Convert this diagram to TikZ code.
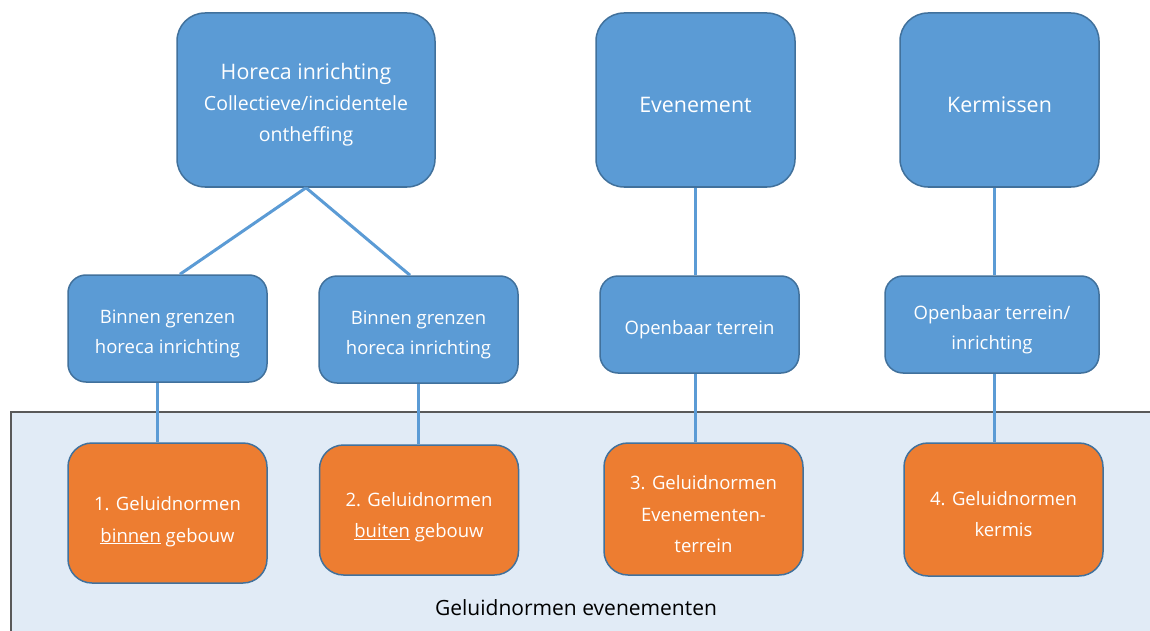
\documentclass[tikz,border=0pt]{standalone}
\usepackage{fontspec}
\setmainfont{Open Sans}
\definecolor{boxblue}{HTML}{5B9BD5}
\definecolor{boxedge}{HTML}{41719C}
\definecolor{boxorange}{HTML}{ED7D31}
\definecolor{panelfill}{HTML}{E1EBF6}
\definecolor{paneledge}{HTML}{595959}
\newcommand{\downstrut}{\rule{0pt}{25pt}}
\tikzset{
  bluebox/.style={draw=boxedge, line width=1.5pt, fill=boxblue, text=white, align=center, inner sep=0pt},
  bigbox/.style={bluebox, rounded corners=28pt, minimum height=174pt, font=\fontsize{19.5}{31}\selectfont},
  midbox/.style={bluebox, rounded corners=18pt, font=\fontsize{18.5}{30}\selectfont},
  orbox/.style={bluebox, fill=boxorange, rounded corners=24pt, minimum width=199pt, font=\fontsize{18.5}{31.5}\selectfont},
  link/.style={draw=boxblue, line width=3pt}
}
\begin{document}
\begin{tikzpicture}[x=1pt,y=-1pt]
\useasboundingbox (0,0) rectangle (1150,631);
\fill[white] (0,0) rectangle (1150,631);
\draw[fill=panelfill, draw=paneledge, line width=2pt] (1160,412) -- (11,412) -- (11,640) -- (1160,640);
\node[font=\fontsize{21}{24}\selectfont] (title) at (576,608) {Geluidnormen evenementen};

\node[bigbox, minimum width=258pt] (hor) at (306,100) {\downstrut{\fontsize{21.4}{31}\selectfont Horeca inrichting}\\Collectieve/incidentele\\ontheffing};
\node[bigbox, minimum width=199pt, font=\fontsize{21.4}{31}\selectfont] (eve) at (695.5,100) {\downstrut Evenement};
\node[bigbox, minimum width=199pt, font=\fontsize{21.4}{31}\selectfont] (ker) at (999.5,100) {\downstrut Kermissen};

\node[midbox, minimum width=199pt, minimum height=107pt] (b1) at (167.5,328.5) {\downstrut Binnen grenzen\\horeca inrichting};
\node[midbox, minimum width=199pt, minimum height=107pt] (b2) at (418.5,329.5) {\downstrut Binnen grenzen\\horeca inrichting};
\node[midbox, minimum width=199pt, minimum height=97pt] (ot) at (699.5,324.5) {\downstrut Openbaar terrein};
\node[midbox, minimum width=214pt, minimum height=97pt] (oti) at (992,324.5) {\downstrut Openbaar terrein/\\inrichting};

\node[orbox, minimum height=140pt] (o1) at (167.5,513) {\rule{0pt}{31pt}1. Geluidnormen\\\underline{binnen} gebouw};
\node[orbox, minimum height=130pt] (o2) at (419,510) {\rule{0pt}{28pt}2. Geluidnormen\\\underline{buiten} gebouw};
\node[orbox, minimum height=132pt] (o3) at (703.5,509) {\downstrut 3. Geluidnormen\\Evenementen-\\terrein};
\node[orbox, minimum height=133pt] (o4) at (1003.5,509.5) {\rule{0pt}{23pt}4. Geluidnormen\\kermis};

\draw[link] (hor.south) -- ([xshift=12.5pt]b1.north);
\draw[link] (hor.south) -- ([xshift=-8.5pt]b2.north);
\draw[link] ([xshift=-10.5pt]b1.south) -- ([xshift=-10.5pt]b1.south |- o1.north);
\draw[link] (b2.south) -- (b2.south |- o2.north);
\draw[link] (eve.south) -- (eve.south |- ot.north);
\draw[link] (ot.south -| eve.south) -- (o3.north -| eve.south);
\draw[link] ([xshift=2pt]oti.north) -- ([xshift=2pt]oti.north |- ker.south);
\draw[link] ([xshift=2pt]oti.south) -- ([xshift=2pt]oti.south |- o4.north);
\end{tikzpicture}
\end{document}
